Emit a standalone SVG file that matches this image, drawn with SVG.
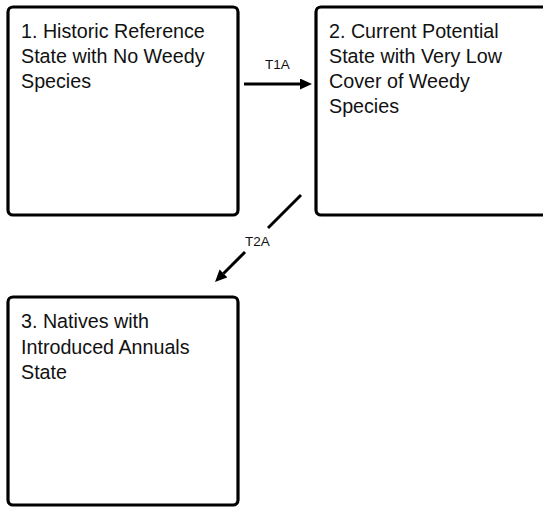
<svg xmlns="http://www.w3.org/2000/svg" width="543" height="509" viewBox="0 0 543 509">
  <style>
    .box { fill: #ffffff; stroke: #000000; stroke-width: 3.2; }
    .t { font-family: "Liberation Sans", Arial, sans-serif; font-size: 19.7px; fill: #111111; }
    .lbl { font-family: "Liberation Sans", Arial, sans-serif; font-size: 13.5px; fill: #111111; }
    .conn { stroke: #000000; stroke-width: 3; fill: none; }
  </style>
  <defs>
    <marker id="ah" markerUnits="userSpaceOnUse" markerWidth="12" markerHeight="12" refX="0" refY="5.5" orient="auto">
      <path d="M0,0 L12,5.5 L0,11 z" fill="#000000"/>
    </marker>
  </defs>
  <rect x="0" y="0" width="543" height="509" fill="#ffffff"/>
  <g id="node1">
    <rect class="box" x="8" y="7" width="230" height="208" rx="5"/>
    <text class="t" x="21" y="38">1. Historic Reference</text>
    <text class="t" x="21" y="63">State with No Weedy</text>
    <text class="t" x="21" y="88">Species</text>
  </g>
  <g id="node2">
    <rect class="box" x="316" y="7" width="240" height="208" rx="5"/>
    <text class="t" x="329" y="38">2. Current Potential</text>
    <text class="t" x="329" y="63">State with Very Low</text>
    <text class="t" x="329" y="88">Cover of Weedy</text>
    <text class="t" x="329" y="113">Species</text>
  </g>
  <g id="node3">
    <rect class="box" x="8" y="297" width="230" height="208" rx="5"/>
    <text class="t" x="21" y="328">3. Natives with</text>
    <text class="t" x="21" y="354">Introduced Annuals</text>
    <text class="t" x="21" y="379">State</text>
  </g>
  <g id="connectors">
    <line class="conn" x1="244" y1="84" x2="300" y2="84" marker-end="url(#ah)"/>
    <text class="lbl" x="265" y="69">T1A</text>
    <line class="conn" x1="301" y1="195" x2="268" y2="228"/>
    <line class="conn" x1="245" y1="252" x2="223.5" y2="273.5" marker-end="url(#ah)"/>
    <text class="lbl" x="245" y="246">T2A</text>
  </g>
</svg>
